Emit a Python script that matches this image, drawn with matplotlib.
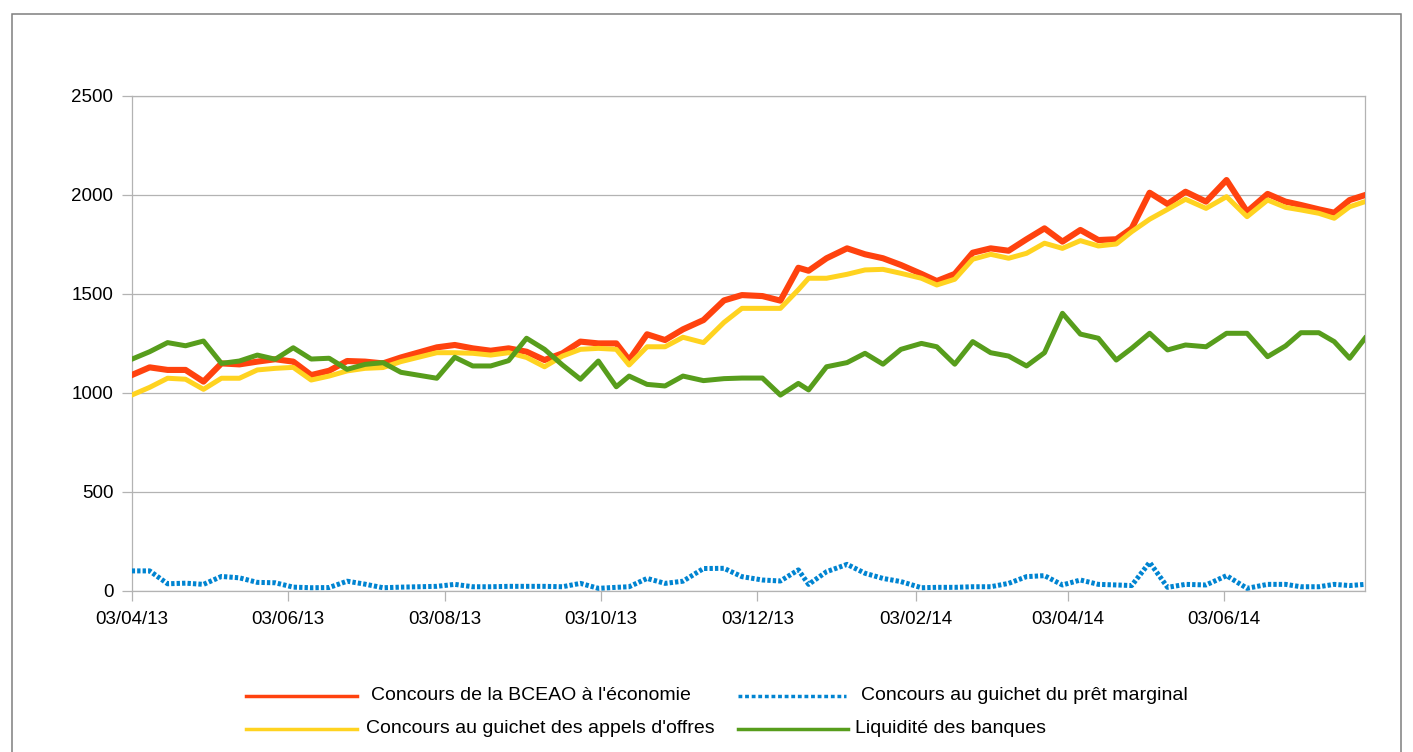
import matplotlib
matplotlib.use('Agg')
import matplotlib.pyplot as plt
import matplotlib.dates as mdates
from matplotlib.lines import Line2D
from matplotlib.patches import Rectangle
import pandas as pd

plt.rcParams['font.family'] = ['Liberation Sans', 'DejaVu Sans']

# ---- data ----
dates = [
    '2013-04-03', '2013-04-10', '2013-04-17', '2013-04-24', '2013-05-01', '2013-05-08',
    '2013-05-15', '2013-05-22', '2013-05-29', '2013-06-05', '2013-06-12', '2013-06-19',
    '2013-06-26', '2013-07-03', '2013-07-10', '2013-07-17', '2013-07-31', '2013-08-07',
    '2013-08-14', '2013-08-21', '2013-08-28', '2013-09-04', '2013-09-11', '2013-09-18',
    '2013-09-25', '2013-10-02', '2013-10-09', '2013-10-14', '2013-10-21', '2013-10-28',
    '2013-11-04', '2013-11-12', '2013-11-20', '2013-11-27', '2013-12-05', '2013-12-12',
    '2013-12-19', '2013-12-23', '2013-12-30', '2014-01-07', '2014-01-14', '2014-01-21',
    '2014-01-28', '2014-02-05', '2014-02-11', '2014-02-18', '2014-02-25', '2014-03-04',
    '2014-03-11', '2014-03-18', '2014-03-25', '2014-04-01', '2014-04-08', '2014-04-15',
    '2014-04-22', '2014-04-28', '2014-05-05', '2014-05-12', '2014-05-19', '2014-05-27',
    '2014-06-04', '2014-06-12', '2014-06-20', '2014-06-27', '2014-07-03', '2014-07-10',
    '2014-07-16', '2014-07-22', '2014-07-28',
]

bceao_economie = [
    1089, 1128, 1115, 1115, 1056, 1148, 1143, 1157, 1169, 1157, 1089, 1111,
    1160, 1157, 1148, 1178, 1229, 1241, 1224, 1212, 1224, 1207, 1165, 1199,
    1258, 1249, 1249, 1165, 1295, 1266, 1320, 1367, 1466, 1493, 1488, 1465,
    1631, 1616, 1679, 1729, 1699, 1679, 1645, 1600, 1564, 1600, 1707, 1729,
    1717, 1775, 1830, 1763, 1822, 1771, 1775, 1830, 2010, 1953, 2015, 1965,
    2074, 1914, 2004, 1965, 1948, 1926, 1909, 1973, 1998,
]

pret_marginal = [
    100, 100, 35, 38, 32, 72, 65, 42, 40, 18, 15, 16,
    48, 33, 15, 18, 22, 32, 20, 20, 22, 22, 22, 20,
    37, 12, 17, 20, 62, 37, 48, 112, 113, 71, 54, 49,
    105, 32, 96, 133, 88, 62, 46, 15, 17, 17, 20, 20,
    37, 71, 76, 29, 54, 32, 29, 26, 143, 17, 32, 29,
    76, 12, 32, 32, 20, 20, 32, 26, 32,
]

appels_offres = [
    988, 1027, 1073, 1068, 1017, 1073, 1073, 1115, 1123, 1128, 1064, 1084,
    1110, 1123, 1127, 1157, 1202, 1202, 1199, 1190, 1202, 1178, 1131, 1185,
    1219, 1224, 1219, 1140, 1232, 1232, 1280, 1253, 1355, 1426, 1426, 1426,
    1520, 1578, 1578, 1598, 1620, 1623, 1603, 1578, 1544, 1573, 1674, 1699,
    1679, 1704, 1755, 1729, 1768, 1741, 1751, 1813, 1876, 1926, 1977, 1931,
    1990, 1889, 1973, 1936, 1923, 1906, 1881, 1939, 1965,
]

liquidite = [
    1169, 1207, 1253, 1237, 1261, 1148, 1160, 1190, 1169, 1227, 1170, 1174,
    1118, 1143, 1152, 1103, 1073, 1179, 1135, 1135, 1162, 1275, 1219, 1140,
    1068, 1160, 1030, 1084, 1042, 1034, 1084, 1061, 1071, 1074, 1074, 988,
    1047, 1014, 1131, 1152, 1199, 1144, 1219, 1249, 1232, 1144, 1258, 1202,
    1185, 1135, 1202, 1401, 1296, 1275, 1165, 1224, 1300, 1216, 1241, 1232,
    1300, 1300, 1182, 1236, 1303, 1303, 1258, 1174, 1275,
]

series_labels = [
    "Concours de la BCEAO à l'économie",
    "Concours au guichet du prêt marginal",
    "Concours au guichet des appels d'offres",
    "Liquidité des banques",
]
y_ticks = [0, 500, 1000, 1500, 2000, 2500]

RED = '#ff420e'
BLUE = '#0084d1'
YELLOW = '#ffd320'
GREEN = '#579d1c'
GRID = '#b3b3b3'

W, H = 1413, 752
fig = plt.figure(figsize=(W / 100, H / 100), dpi=100)
fig.patch.set_facecolor('white')


def fx(px):
    return px / W


def fy(py):
    return 1 - py / H


# outer frame
fig.add_artist(Rectangle((fx(12), fy(770)), fx(1401) - fx(12), fy(14) - fy(770),
                         transform=fig.transFigure, fill=False,
                         edgecolor='#7f7f7f', lw=1.1, clip_on=False))

ax = fig.add_axes([fx(131.7), fy(590.7), fx(1365) - fx(131.7), fy(95.7) - fy(590.7)])

x = pd.to_datetime(dates, format='%Y-%m-%d')

dash_blue = (0, (0.67, 0.42))
ax.plot(x, bceao_economie, color=RED, lw=4.4, zorder=3)
ax.plot(x, pret_marginal, color=BLUE, lw=3.6, linestyle=dash_blue,
        dash_capstyle='butt', zorder=3)
ax.plot(x, appels_offres, color=YELLOW, lw=3.6, zorder=3)
ax.plot(x, liquidite, color=GREEN, lw=3.6, zorder=3)

ax.set_xlim(x[0], x[-1])
ax.set_ylim(0, 2500)
ax.set_yticks(y_ticks)
ax.set_yticklabels([str(v) for v in y_ticks])
ax.xaxis.set_major_locator(mdates.MonthLocator(bymonth=[2, 4, 6, 8, 10, 12], bymonthday=3))
ax.xaxis.set_major_formatter(mdates.DateFormatter('%d/%m/%y'))

ax.set_axisbelow(True)
ax.yaxis.grid(True, color=GRID, lw=0.9)
for sp in ax.spines.values():
    sp.set_color(GRID)
    sp.set_linewidth(0.9)
ax.tick_params(axis='both', which='major', length=7.2, width=0.9, color=GRID,
               labelsize=13.5, labelcolor='black')
ax.tick_params(axis='y', pad=6)
ax.tick_params(axis='x', pad=7.5)

# legend (manual, two columns)
legend_items = [
    (series_labels[0], RED, '-', (246, 357), 371, 696),
    (series_labels[1], BLUE, (0, (1.1, 0.8)), (738, 846), 861, 696),
    (series_labels[2], YELLOW, '-', (246, 357), 366, 728.5),
    (series_labels[3], GREEN, '-', (738, 848), 855, 728.5),
]
for label, col, ls, (x0, x1), tx, ty in legend_items:
    fig.add_artist(Line2D([fx(x0), fx(x1)], [fy(ty), fy(ty)], transform=fig.transFigure,
                          color=col, lw=2.5, linestyle=ls, dash_capstyle='butt'))
    fig.text(fx(tx), fy(ty), label, fontsize=14, color='black',
             ha='left', va='center')

fig.savefig('out.png', dpi=100, facecolor='white')
